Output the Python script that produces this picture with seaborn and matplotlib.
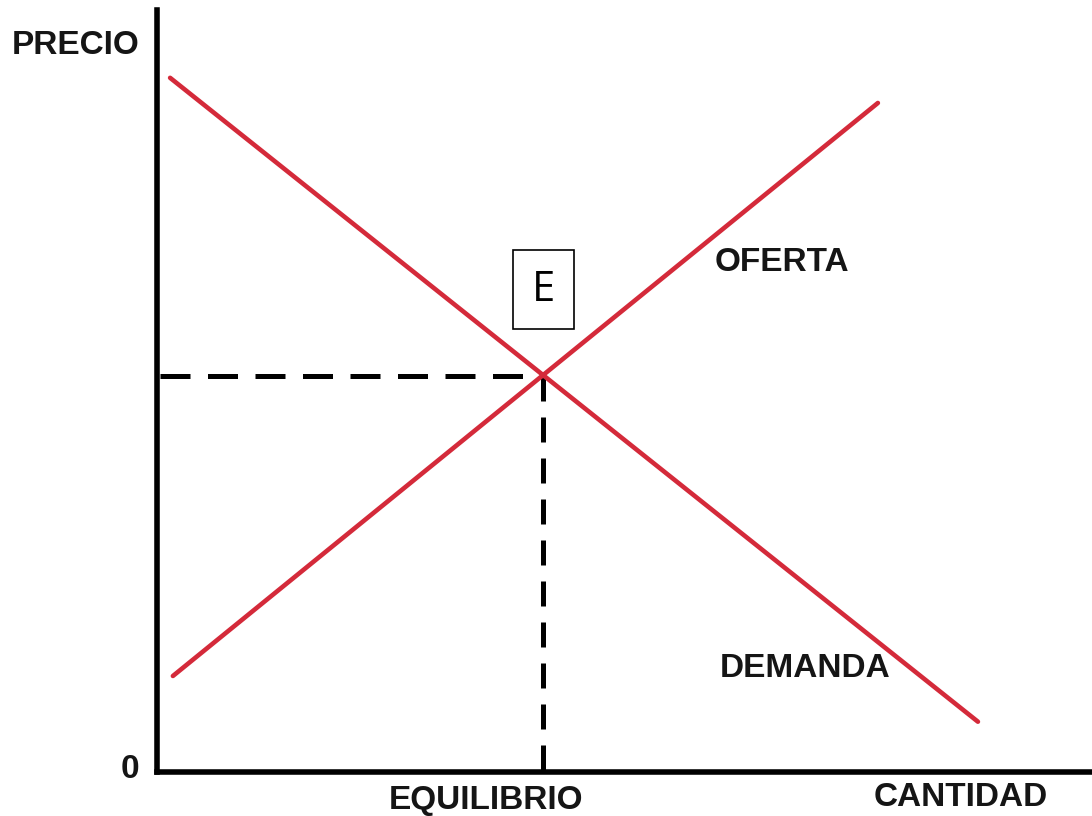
import matplotlib
matplotlib.use("Agg")
import matplotlib.pyplot as plt
import seaborn as sns
import pandas as pd

# supply / demand endpoints (quantity, price)
demand_q = [0.14, 8.78]
demand_p = [9.11, 0.66]
supply_q = [0.17, 7.71]
supply_p = [1.26, 8.78]
eq_q = 4.13
eq_p = 5.20

sns.set_style("white")
plt.rcParams['font.family'] = ['Liberation Sans', 'DejaVu Sans']

fig = plt.figure(figsize=(10.92, 8.16), dpi=100)
ax = fig.add_axes([157 / 1092, 44 / 816, 935 / 1092, 762 / 816])

red = "#d42a3a"
df = pd.DataFrame({
    "q": demand_q + supply_q,
    "p": demand_p + supply_p,
    "curva": ["DEMANDA"] * 2 + ["OFERTA"] * 2,
})
sns.lineplot(data=df, x="q", y="p", hue="curva", palette=[red, red],
             linewidth=3.3, legend=False, ax=ax, zorder=3)

# dashed guides to the equilibrium point
ax.plot([0.03, eq_q], [eq_p, eq_p], color="black", lw=3.6,
        linestyle=(0, (6, 3.5)), zorder=2, solid_capstyle="butt")
ax.plot([eq_q, eq_q], [eq_p, 0], color="black", lw=3.6,
        linestyle=(0, (5, 3.2)), zorder=2)

ax.set_xlim(0, 10)
ax.set_ylim(0, 10)
ax.set_xticks([])
ax.set_yticks([])
ax.set_xlabel("")
ax.set_ylabel("")
sns.despine(ax=ax)
for s in ["left", "bottom"]:
    ax.spines[s].set_linewidth(4)
    ax.spines[s].set_color("black")

lab = dict(fontsize=24, fontweight="bold", color="#151515",
           ha="center", va="center")
ax.text(-0.87, 9.53, "PRECIO", **lab)
ax.text(-0.29, 0.03, "0", **lab)
ax.text(3.52, -0.37, "EQUILIBRIO", **lab)
ax.text(8.6, -0.34, "CANTIDAD", **lab)
ax.text(6.68, 6.68, "OFERTA", **lab)
ax.text(6.93, 1.36, "DEMANDA", **lab)

ax.text(eq_q, 6.33, "E", fontsize=30, family=["Open Sans", "DejaVu Sans"],
        ha="center", va="center", color="black",
        bbox=dict(boxstyle="square,pad=0.45", fc="white", ec="black", lw=1.2))

fig.savefig("out.png", dpi=100)
